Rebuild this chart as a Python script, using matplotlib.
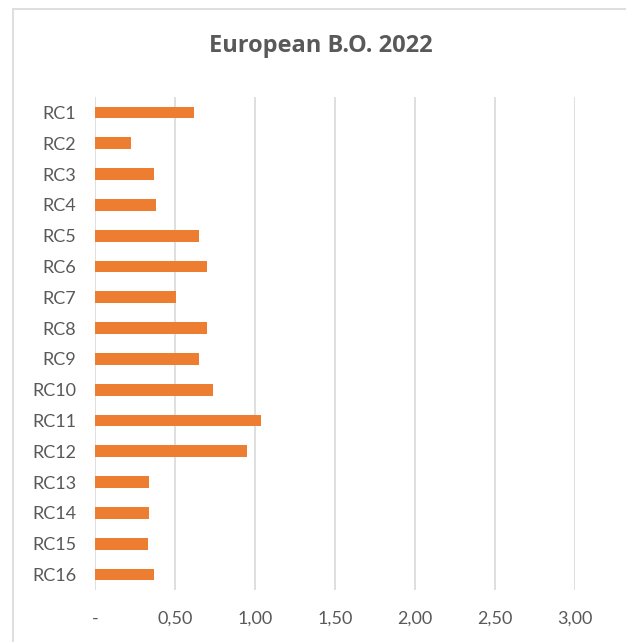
import matplotlib.pyplot as plt
from matplotlib.patches import Rectangle
from matplotlib.ticker import FuncFormatter

plt.rcParams['font.family'] = ['Lato', 'DejaVu Sans']

categories = ["RC1", "RC2", "RC3", "RC4", "RC5", "RC6", "RC7", "RC8",
              "RC9", "RC10", "RC11", "RC12", "RC13", "RC14", "RC15", "RC16"]
values = [0.62, 0.225, 0.37, 0.38, 0.65, 0.70, 0.505, 0.70,
          0.65, 0.74, 1.035, 0.95, 0.34, 0.34, 0.33, 0.37]
xticks = [0, 0.5, 1.0, 1.5, 2.0, 2.5, 3.0]

W, H = 626, 642
fig = plt.figure(figsize=(W / 100, H / 100), dpi=100)
ax = fig.add_axes([95 / W, 1 - 590 / H, 480 / W, 493 / H])

txt = "#595959"
grid = "#d9d9d9"

# chart border (only top/left visible in the reference crop)
fig.patches.append(Rectangle((13 / W, -0.1), 1.2, 1 - 9 / H + 0.1,
                             transform=fig.transFigure, fill=False,
                             edgecolor=grid, linewidth=1.2))

ypos = list(range(len(categories)))
ax.barh(ypos, values, height=0.38, color="#ed7d31", zorder=3)

ax.set_xlim(0, 3.0)
ax.set_ylim(len(categories) - 0.5, -0.5)
ax.set_xticks(xticks)
ax.xaxis.set_major_formatter(FuncFormatter(
    lambda v, p: "-" if v == 0 else f"{v:.2f}".replace(".", ",")))
ax.set_yticks(ypos)
ax.set_yticklabels(categories)

ax.grid(axis="x", color=grid, linewidth=1.2, zorder=0)
for s in ax.spines.values():
    s.set_visible(False)
ax.tick_params(axis="both", length=0, labelcolor=txt, labelsize=13)
ax.tick_params(axis="x", pad=15)
ax.tick_params(axis="y", pad=13.5)

fig.text(321 / W, 1 - 46 / H, "European B.O. 2022", ha="center", va="center",
         fontsize=17, fontweight="bold", color=txt,
         family=["Open Sans", "DejaVu Sans"])

fig.savefig("out.png", dpi=100)
